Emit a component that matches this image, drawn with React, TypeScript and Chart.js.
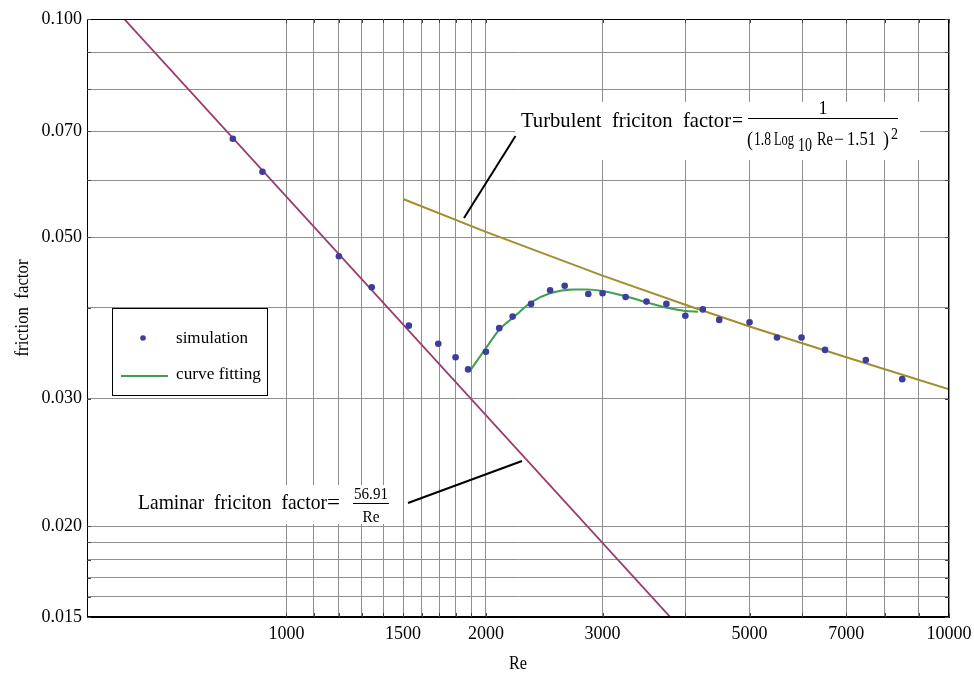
import React, { useEffect, useRef } from "react";
import { Chart, registerables } from "chart.js";

Chart.register(...registerables);

// ---------- data ----------
const xGridValues = [1000, 1100, 1200, 1300, 1400, 1500, 1600, 1700, 1800, 1900, 2000, 3000, 4000, 5000, 6000, 7000, 8000, 9000, 10000];
const xTickLabels = [1000, 1500, 2000, 3000, 5000, 7000, 10000];
const yGridValues = [0.015, 0.016, 0.017, 0.018, 0.019, 0.02, 0.03, 0.04, 0.05, 0.06, 0.07, 0.08, 0.09, 0.1];
const yTickLabels = [0.015, 0.02, 0.03, 0.05, 0.07, 0.1];

const simRe = [830, 920, 1200, 1345, 1530, 1695, 1800, 1880, 2000, 2095, 2195, 2340, 2500, 2630, 2855, 3000, 3250, 3495, 3745, 4000, 4250, 4500, 5000, 5500, 5990, 6500, 7490, 8500];
const simF = [0.0684, 0.0616, 0.0471, 0.0427, 0.0378, 0.0357, 0.0342, 0.0329, 0.0348, 0.0375, 0.0389, 0.0405, 0.0423, 0.0429, 0.0418, 0.0419, 0.0414, 0.0408, 0.0405, 0.039, 0.0398, 0.0385, 0.0382, 0.0364, 0.0364, 0.035, 0.0339, 0.0319];

const fitRe = [1895, 2000, 2100, 2200, 2340, 2500, 2710, 2840, 3000, 3250, 3500, 3750, 4000, 4180];
const fitF = [0.0328, 0.0352, 0.0374, 0.0388, 0.0407, 0.0419, 0.0424, 0.0424, 0.0422, 0.0415, 0.0407, 0.04, 0.0396, 0.0395];

const laminarRe = [500, 4000];
const laminarF = [0.1138, 0.01423];

const turbRe = [1500, 2000, 3000, 4000, 5000, 7000, 10000];
const turbF = [0.0565, 0.0509, 0.0443, 0.0404, 0.0377, 0.0342, 0.0309];

// ---------- style ----------
const FONT = "'Liberation Serif', 'DejaVu Serif', serif";
const C_SIM = "#3d3d9c";
const C_FIT = "#3f9f52";
const C_LAM = "#9a3a6e";
const C_TURB = "#a08f2c";
const C_GRID = "#8f8f8f";

function txt(
  ctx: CanvasRenderingContext2D,
  s: string,
  x: number,
  y: number,
  size: number,
  opts: { align?: string; width?: number; baseline?: CanvasTextBaseline } = {}
) {
  ctx.save();
  ctx.font = `${size}px ${FONT}`;
  ctx.textBaseline = opts.baseline || "alphabetic";
  ctx.textAlign = "left";
  const w = ctx.measureText(s).width;
  const sx = opts.width ? opts.width / w : 1;
  const dw = w * sx;
  const left = opts.align === "center" ? x - dw / 2 : opts.align === "right" ? x - dw : x;
  ctx.translate(left, y);
  ctx.scale(sx, 1);
  ctx.fillStyle = "#000";
  ctx.fillText(s, 0, 0);
  ctx.restore();
}

function line(ctx: CanvasRenderingContext2D, x1: number, y1: number, x2: number, y2: number, color: string, w: number) {
  ctx.save();
  ctx.strokeStyle = color;
  ctx.lineWidth = w;
  ctx.beginPath();
  ctx.moveTo(x1, y1);
  ctx.lineTo(x2, y2);
  ctx.stroke();
  ctx.restore();
}

const decorPlugin = {
  id: "decor",
  afterDraw(chart: any) {
    const ctx: CanvasRenderingContext2D = chart.ctx;
    const a = chart.chartArea;
    const xs = chart.scales.x;
    const ys = chart.scales.y;

    // frame
    ctx.save();
    ctx.strokeStyle = "#000";
    ctx.lineWidth = 1;
    ctx.strokeRect(Math.round(a.left) + 0.5, Math.round(a.top) + 0.5, Math.round(a.right - a.left) - 1, Math.round(a.bottom - a.top) - 1);
    ctx.restore();

    // inner ticks
    xGridValues.forEach((v) => {
      const px = Math.round(xs.getPixelForValue(v)) + 0.5;
      line(ctx, px, a.bottom, px, a.bottom - 4, "#444", 1);
      line(ctx, px, a.top, px, a.top + 4, "#444", 1);
    });
    yGridValues.forEach((v) => {
      const py = Math.round(ys.getPixelForValue(v)) + 0.5;
      line(ctx, a.left, py, a.left + 4, py, "#444", 1);
      line(ctx, a.right, py, a.right - 4, py, "#444", 1);
    });

    // tick labels
    xTickLabels.forEach((v) => {
      txt(ctx, String(v), xs.getPixelForValue(v), 639, 18, { align: "center" });
    });
    yTickLabels.forEach((v) => {
      txt(ctx, v.toFixed(3), 82, ys.getPixelForValue(v), 18, { align: "right", baseline: "middle" });
    });

    // axis titles
    txt(ctx, "Re", 518, 669, 19, { align: "center", width: 18 });
    ctx.save();
    ctx.translate(28, 308);
    ctx.rotate(-Math.PI / 2);
    txt(ctx, "friction  factor", 0, 0, 18, { align: "center", width: 97 });
    ctx.restore();

    // legend
    ctx.save();
    ctx.fillStyle = "#fff";
    ctx.fillRect(113, 308, 155, 88);
    ctx.strokeStyle = "#000";
    ctx.lineWidth = 1;
    ctx.strokeRect(112.5, 308.5, 155, 87);
    ctx.fillStyle = C_SIM;
    ctx.beginPath();
    ctx.arc(143, 338, 2.8, 0, Math.PI * 2);
    ctx.fill();
    ctx.restore();
    line(ctx, 121, 376, 168, 376, C_FIT, 2);
    txt(ctx, "simulation", 176, 343, 17, { width: 72 });
    txt(ctx, "curve fitting", 176, 379, 17, { width: 85 });

    // turbulent annotation
    ctx.save();
    ctx.fillStyle = "#fff";
    ctx.fillRect(515, 102, 405, 58);
    ctx.restore();
    txt(ctx, "Turbulent  friciton  factor", 521, 127, 21, { width: 210 });
    txt(ctx, "=", 732, 127, 21, { width: 11 });
    txt(ctx, "1", 823, 114, 18, { align: "center" });
    line(ctx, 748, 118.5, 898, 118.5, "#000", 1);
    txt(ctx, "(", 747, 146, 22, { width: 6 });
    txt(ctx, "1.8", 754, 145, 18, { width: 17 });
    txt(ctx, "Log", 774, 145, 18, { width: 20 });
    txt(ctx, "10", 798, 151, 18, { width: 14 });
    txt(ctx, "Re", 817, 145, 18, { width: 16 });
    txt(ctx, "\u2212", 834, 145, 18, { width: 10 });
    txt(ctx, "1.51", 847, 145, 18, { width: 29 });
    txt(ctx, ")", 883, 146, 22, { width: 6 });
    txt(ctx, "2", 891, 139, 16, { width: 7 });
    line(ctx, 515.5, 136, 464, 218, "#000", 2);

    // laminar annotation
    ctx.save();
    ctx.fillStyle = "#fff";
    ctx.fillRect(135, 485, 257, 39);
    ctx.restore();
    txt(ctx, "Laminar  friciton  factor", 138, 509, 21, { width: 189 });
    txt(ctx, "=", 327, 509, 21, { width: 13 });
    txt(ctx, "56.91", 371, 499, 17, { align: "center", width: 34 });
    line(ctx, 353, 503.5, 389, 503.5, "#000", 1);
    txt(ctx, "Re", 371, 522, 17, { align: "center", width: 17 });
    line(ctx, 408, 503, 522, 461, "#000", 2);
  },
};

export default function App() {
  const ref = useRef<HTMLCanvasElement>(null);

  useEffect(() => {
    document.body.style.margin = "0";
    document.body.style.overflow = "hidden";
    const canvas = ref.current;
    if (!canvas) return;
    const toPts = (xs: number[], ys: number[]) => xs.map((x, i) => ({ x, y: ys[i] }));

    const chart = new Chart(canvas, {
      type: "scatter",
      data: {
        datasets: [
          {
            label: "simulation",
            data: toPts(simRe, simF),
            showLine: false,
            pointRadius: 3.3,
            pointBackgroundColor: C_SIM,
            pointBorderWidth: 0,
            order: 0,
          },
          {
            label: "curve fitting",
            data: toPts(fitRe, fitF),
            showLine: true,
            pointRadius: 0,
            borderColor: C_FIT,
            borderWidth: 2,
            cubicInterpolationMode: "monotone",
            order: 1,
          },
          {
            label: "laminar",
            data: toPts(laminarRe, laminarF),
            showLine: true,
            pointRadius: 0,
            borderColor: C_LAM,
            borderWidth: 1.8,
            order: 2,
          },
          {
            label: "turbulent",
            data: toPts(turbRe, turbF),
            showLine: true,
            pointRadius: 0,
            borderColor: C_TURB,
            borderWidth: 2,
            tension: 0,
            order: 3,
          },
        ],
      },
      options: {
        animation: false,
        responsive: false,
        devicePixelRatio: 1,
        layout: { padding: { top: 19, right: 25, left: 0, bottom: 0 } },
        plugins: { legend: { display: false }, tooltip: { enabled: false } },
        scales: {
          x: {
            type: "logarithmic",
            min: 500,
            max: 10000,
            afterBuildTicks: (s: any) => {
              s.ticks = xGridValues.map((v) => ({ value: v }));
            },
            afterFit: (s: any) => {
              s.height = 58;
            },
            ticks: { display: false },
            grid: { color: C_GRID, lineWidth: 1, drawTicks: false },
            border: { display: true, color: "#000", width: 1 },
          },
          y: {
            type: "logarithmic",
            min: 0.015,
            max: 0.1,
            afterBuildTicks: (s: any) => {
              s.ticks = yGridValues.map((v) => ({ value: v }));
            },
            afterFit: (s: any) => {
              s.width = 87;
            },
            ticks: { display: false },
            grid: { color: C_GRID, lineWidth: 1, drawTicks: false },
            border: { display: true, color: "#000", width: 1 },
          },
        },
      },
      plugins: [decorPlugin],
    } as any);

    return () => chart.destroy();
  }, []);

  return (
    <div style={{ width: 974, height: 675, background: "#fff" }}>
      <canvas ref={ref} width={974} height={675} style={{ display: "block" }} />
    </div>
  );
}
